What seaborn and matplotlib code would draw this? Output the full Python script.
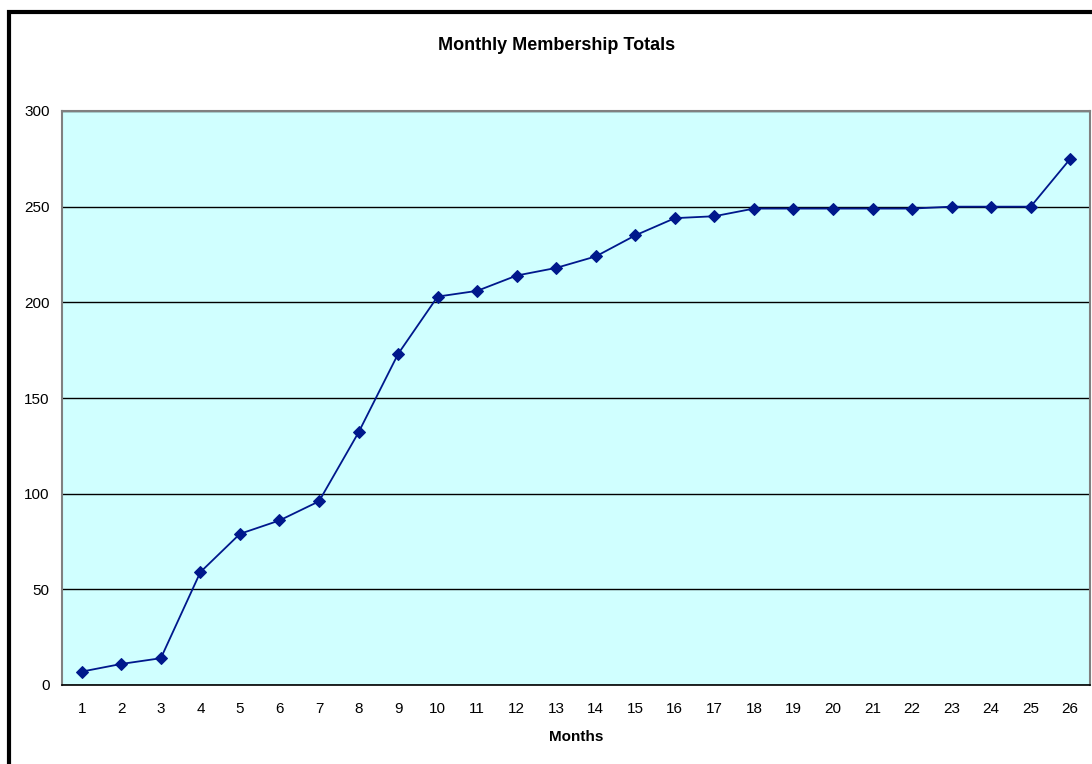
#importing libraries
import matplotlib
matplotlib.use('Agg')
import matplotlib.pyplot as plt
import numpy as np
import pandas as pd
import seaborn as sns
from matplotlib.patches import Rectangle

#data
months = list(range(1, 27))
totals = [7, 11, 14, 59, 79, 86, 96, 132, 173, 203, 206, 214, 218, 224, 235,
          244, 245, 249, 249, 249, 249, 249, 250, 250, 250, 275]
df = pd.DataFrame({'Months': months, 'Members': totals})

sns.set_style('white')
plt.rcParams['font.family'] = ['Liberation Sans', 'DejaVu Sans']
plt.rcParams['text.color'] = 'black'
plt.rcParams['xtick.color'] = 'black'
plt.rcParams['ytick.color'] = 'black'
plt.rcParams['axes.labelcolor'] = 'black'

fig = plt.figure(figsize=(10.92, 7.64), dpi=100)
ax = fig.add_axes([62 / 1092, 1 - 685 / 764, 1028 / 1092, 574 / 764])
ax.set_facecolor('#D0FFFF')

#black chart border (cut off at right and bottom like the original)
fig.patches.append(Rectangle((9 / 1092, -0.1), 1.2, 1 - 12.5 / 764 + 0.1,
                             transform=fig.transFigure, fill=False,
                             edgecolor='black', linewidth=3, zorder=0))

sns.lineplot(data=df, x='Months', y='Members', ax=ax, color='#00188C',
             marker='D', markersize=6, markeredgecolor='#00188C',
             linewidth=1.3, zorder=3)

ax.set_xlim(0.5, 26.5)
ax.set_ylim(0, 300)
ax.set_yticks(np.arange(0, 301, 50))
ax.yaxis.grid(True, color='black', linewidth=1)
ax.set_axisbelow(True)

#ticks between categories, labels at the centres
ax.set_xticks(np.arange(0.5, 27, 1))
ax.set_xticklabels([])
ax.set_xticks(months, minor=True)
ax.set_xticklabels([str(m) for m in months], minor=True)
ax.tick_params(axis='x', which='major', length=5, width=1, color='black', direction='out')
ax.tick_params(axis='x', which='minor', length=0, pad=12, labelsize=11, labelcolor='black')
ax.tick_params(axis='y', length=5, width=1, color='#808080', direction='out',
               labelsize=11, pad=4, labelcolor='black')

for side in ['left', 'top', 'right']:
    ax.spines[side].set_color('#808080')
    ax.spines[side].set_linewidth(1.5)
ax.spines['bottom'].set_color('black')
ax.spines['bottom'].set_linewidth(1.2)

ax.set_xlabel('Months', fontsize=11, fontweight='bold', labelpad=10, color='black')
ax.set_ylabel('')
fig.text(557 / 1092, 1 - 45 / 764, 'Monthly Membership Totals', ha='center', va='center',
         fontsize=13, fontweight='bold', color='black')

fig.savefig('out.png', dpi=100)
